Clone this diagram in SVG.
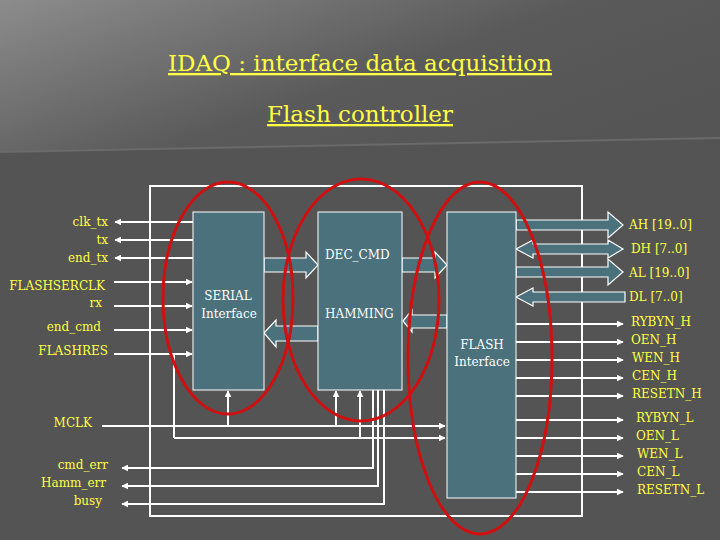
<svg xmlns="http://www.w3.org/2000/svg" width="720" height="540" viewBox="0 0 720 540">
<defs>
<linearGradient id="bg" x1="0" y1="0" x2="1" y2="0.6"><stop offset="0" stop-color="#8c8c8c"/><stop offset="0.6" stop-color="#5a5a5a"/><stop offset="1" stop-color="#555"/></linearGradient>
<marker id="ah" viewBox="0 0 10 10" refX="9" refY="5" markerWidth="7" markerHeight="7" markerUnits="userSpaceOnUse" orient="auto"><path d="M0,0L10,5L0,10z" fill="#fff"/></marker>
</defs>
<style>
text{font-family:'DejaVu Serif','Liberation Serif',serif}
.lbl{font-size:12px;fill:#ffff44}
.w{stroke:#fff;stroke-width:2;fill:none}
.wa{stroke:#fff;stroke-width:2;fill:none;marker-end:url(#ah)}
.blk{fill:#4a717c;stroke:#fff;stroke-width:1}
.bt{font-size:12px;fill:#fff}
.bus{fill:#4a717c;stroke:#fff;stroke-width:1.2}
.ell{fill:none;stroke:#d01010;stroke-width:3}
.ttl{font-size:23px;fill:#ffff44;text-anchor:middle;text-decoration:underline}
</style>
<rect width="720" height="540" fill="#545454"/>
<polygon points="0,0 720,0 720,138 0,152" fill="url(#bg)"/>
<line x1="0" y1="152" x2="720" y2="138" stroke="#6a6a6a" stroke-width="2"/>
<text class="ttl" x="360" y="71">IDAQ : interface data acquisition</text>
<text class="ttl" x="360" y="122">Flash controller</text>
<rect x="150" y="186" width="432" height="330" class="w"/>
<g id="connectors">
<line class="wa" x1="193" y1="222" x2="115" y2="222"/>
<line class="wa" x1="193" y1="240" x2="115" y2="240"/>
<line class="wa" x1="193" y1="258" x2="115" y2="258"/>
<line class="wa" x1="114" y1="282" x2="192" y2="282"/>
<line class="wa" x1="114" y1="306" x2="192" y2="306"/>
<line class="wa" x1="114" y1="330" x2="192" y2="330"/>
<line class="wa" x1="114" y1="354" x2="192" y2="354"/>
<polyline class="w" points="174,354 174,438"/>
<line class="wa" x1="102" y1="426" x2="445" y2="426"/>
<line class="wa" x1="174" y1="438" x2="445" y2="438"/>
<line class="wa" x1="228" y1="426" x2="228" y2="391"/>
<line class="wa" x1="336" y1="426" x2="336" y2="391"/>
<line class="wa" x1="360" y1="438" x2="360" y2="391"/>
<polyline class="wa" points="373,390 373,468 122,468"/>
<polyline class="wa" points="378,390 378,486 122,486"/>
<polyline class="wa" points="384,390 384,504 122,504"/>
<line class="wa" x1="516" y1="324" x2="623" y2="324"/>
<line class="wa" x1="516" y1="342" x2="623" y2="342"/>
<line class="wa" x1="516" y1="360" x2="623" y2="360"/>
<line class="wa" x1="516" y1="378" x2="623" y2="378"/>
<line class="wa" x1="516" y1="396" x2="623" y2="396"/>
<line class="wa" x1="516" y1="420" x2="623" y2="420"/>
<line class="wa" x1="516" y1="438" x2="623" y2="438"/>
<line class="wa" x1="516" y1="456" x2="623" y2="456"/>
<line class="wa" x1="516" y1="474" x2="623" y2="474"/>
<line class="wa" x1="516" y1="492" x2="623" y2="492"/>
<path class="bus" d="M516,220H608V212L623,225L608,238V230H516z"/>
<path class="bus" d="M516,249L533,240V244H608V240L623,249L608,258V254H533V258z"/>
<path class="bus" d="M516,267H608V259L623,272L608,285V277H516z"/>
<path class="bus" d="M516,297L533,288V292H625V302H533V306z"/>
<path class="bus" d="M264,258H306V252L318,265L306,278V272H264z"/>
<path class="bus" d="M402,258H435V252L447,265L435,278V272H402z"/>
<path class="bus" d="M264,333L276,320V326H318V341H276V347z"/>
<path class="bus" d="M403,321L412,310V315H447V328H412V332z"/>
</g>
<g id="serial"><rect class="blk" x="193" y="212" width="71" height="178"/><text class="bt" x="228" y="300" text-anchor="middle">SERIAL</text><text class="bt" x="229" y="318" text-anchor="middle" font-size="11">Interface</text></g>
<g id="hamming"><rect class="blk" x="318" y="212" width="84" height="178"/><text class="bt" x="325" y="259">DEC_CMD</text><text class="bt" x="325" y="318">HAMMING</text></g>
<g id="flash"><rect class="blk" x="447" y="212" width="69" height="286"/><text class="bt" x="482" y="349" text-anchor="middle">FLASH</text><text class="bt" x="482" y="366" text-anchor="middle" font-size="11">Interface</text></g>
<g id="labels" class="lbl">
<text x="108" y="226" text-anchor="end">clk_tx</text>
<text x="108" y="244" text-anchor="end">tx</text>
<text x="108" y="262" text-anchor="end">end_tx</text>
<text x="105" y="290" text-anchor="end">FLASHSERCLK</text>
<text x="102" y="307" text-anchor="end">rx</text>
<text x="101" y="331" text-anchor="end">end_cmd</text>
<text x="108" y="355" text-anchor="end">FLASHRES</text>
<text x="92" y="427" text-anchor="end">MCLK</text>
<text x="108" y="469" text-anchor="end">cmd_err</text>
<text x="106" y="487" text-anchor="end">Hamm_err</text>
<text x="102" y="505" text-anchor="end">busy</text>
<text x="629" y="229">AH [19..0]</text>
<text x="631" y="253">DH [7..0]</text>
<text x="629" y="277">AL [19..0]</text>
<text x="629" y="301">DL [7..0]</text>
<text x="631" y="326">RYBYN_H</text>
<text x="631" y="344">OEN_H</text>
<text x="632" y="362">WEN_H</text>
<text x="632" y="380">CEN_H</text>
<text x="632" y="398">RESETN_H</text>
<text x="636" y="422">RYBYN_L</text>
<text x="636" y="440">OEN_L</text>
<text x="637" y="458">WEN_L</text>
<text x="637" y="476">CEN_L</text>
<text x="637" y="494">RESETN_L</text>
</g>
<g id="ellipses">
<ellipse class="ell" cx="228" cy="298" rx="65" ry="116"/>
<ellipse class="ell" cx="361" cy="300" rx="78" ry="121"/>
<ellipse class="ell" cx="480" cy="358" rx="72" ry="176"/>
</g>
</svg>
